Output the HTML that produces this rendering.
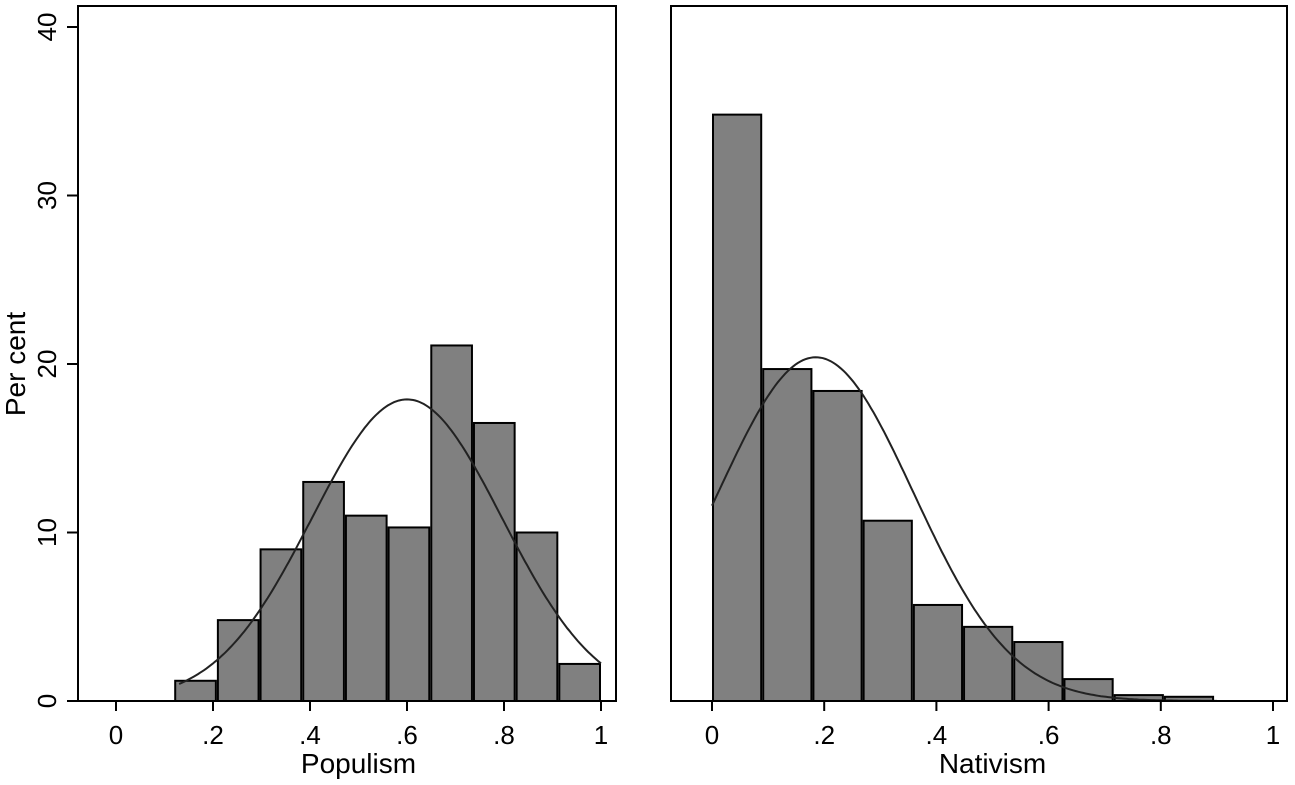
<!DOCTYPE html>
<html><head><meta charset="utf-8"><style>
body{margin:0;background:#fff;}
svg text{font-family:"Liberation Sans",Arial,sans-serif;fill:#000;}
</style></head><body>
<svg id="chart" width="1295" height="780" xmlns="http://www.w3.org/2000/svg"></svg>
<script>
const yTicks=[0,10,20,30,40];
const xTicks=[0,0.2,0.4,0.6,0.8,1];
const xTickLabels=["0",".2",".4",".6",".8","1"];
const popStart=0.12, popWidth=0.088;
const popValues=[1.2,4.8,9.0,13.0,11.0,10.3,21.1,16.5,10.0,2.2];
const popMean=0.6, popSd=0.196, popPeak=17.9;
const natStart=0.0, natWidth=0.0895;
const natValues=[34.8,19.7,18.4,10.7,5.7,4.4,3.5,1.3,0.35,0.25];
const natMean=0.185, natSd=0.174, natPeak=20.4;

const NS="http://www.w3.org/2000/svg";
const svg=document.getElementById('chart');
function el(t,a,p){const e=document.createElementNS(NS,t);for(const k in a)e.setAttribute(k,a[k]);(p||svg).appendChild(e);return e;}
const y=v=>701-v*(701-27)/40;

function panel(cfg){
  const g=el('g',{});
  
  
  const x=v=>cfg.x0+v*(cfg.x1-cfg.x0);
  cfg.values.forEach((v,i)=>{
    const a=x(cfg.start+i*cfg.width), b=x(cfg.start+(i+1)*cfg.width);
    const r=el('rect',{x:a+1,y:y(v),width:b-a-2,height:701-y(v),fill:'#808080',stroke:'#000','stroke-width':2},g);
    
    
  });
  let d='';
  const lo=cfg.curveLo, hi=cfg.curveHi;
  for(let k=0;k<=200;k++){const v=lo+(hi-lo)*k/200;const val=cfg.peak*Math.exp(-Math.pow(v-cfg.mean,2)/(2*cfg.sd*cfg.sd));d+=(k?'L':'M')+x(v).toFixed(1)+','+y(val).toFixed(1);}
  const c=el('path',{d:d,fill:'none',stroke:'#222','stroke-width':2},g);
  
  
  const f=el('rect',{x:cfg.fl,y:6,width:cfg.fr-cfg.fl,height:695,fill:'none',stroke:'#000','stroke-width':2},g);
  
  
  xTicks.forEach((t,i)=>{
    el('line',{x1:x(t),x2:x(t),y1:701,y2:711,stroke:'#000','stroke-width':2},g);
    const tx=el('text',{x:x(t),y:744,'font-size':26,'text-anchor':'middle'},g);
    tx.textContent=xTickLabels[i];
    
    
  });
  const title=el('text',{x:(cfg.x0+cfg.x1)/2,y:773,'font-size':28,'text-anchor':'middle'},g);
  title.textContent=cfg.title;
  
  
}
panel({name:'populism-panel',x0:116,x1:601,fl:78,fr:616,start:popStart,width:popWidth,values:popValues,mean:popMean,sd:popSd,peak:popPeak,curveLo:0.13,curveHi:1,title:'Populism'});
panel({name:'nativism-panel',x0:712,x1:1273,fl:671,fr:1287,start:natStart,width:natWidth,values:natValues,mean:natMean,sd:natSd,peak:natPeak,curveLo:0,curveHi:0.9,title:'Nativism'});
yTicks.forEach(t=>{
  el('line',{x1:67,x2:78,y1:y(t),y2:y(t),stroke:'#000','stroke-width':2});
  const tx=el('text',{x:0,y:0,'font-size':26,'text-anchor':'middle',transform:`translate(56,${y(t)}) rotate(-90)`});
  tx.textContent=String(t);
  
  
});
const yt=el('text',{x:0,y:0,'font-size':28,'text-anchor':'middle',transform:'translate(25,364) rotate(-90)'});
yt.textContent='Per cent';


</script>
</body></html>
